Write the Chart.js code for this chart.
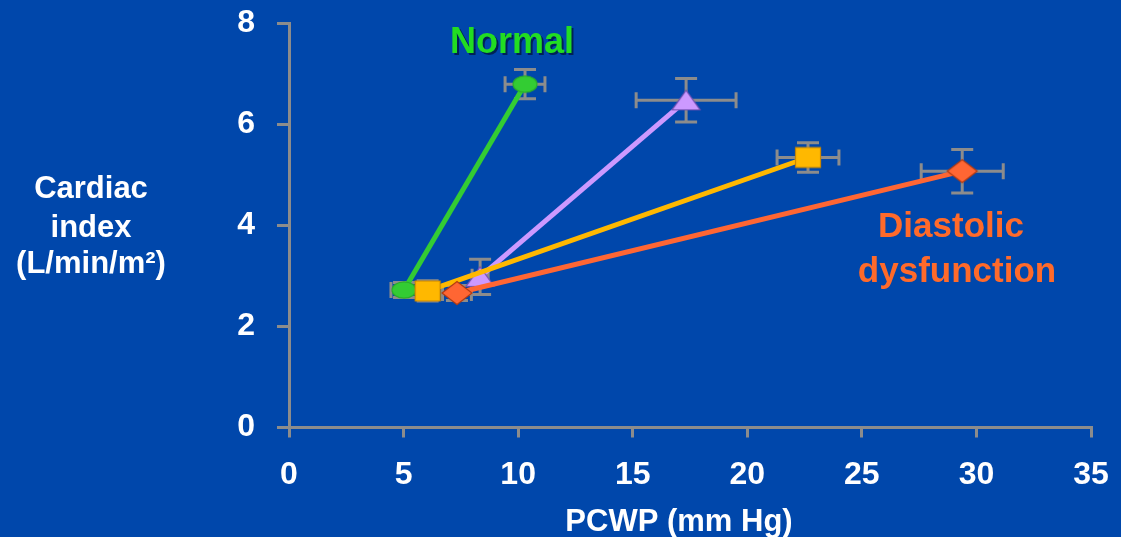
<!DOCTYPE html>
<html>
<head>
<meta charset="utf-8">
<script src="https://cdn.jsdelivr.net/npm/chart.js@4/dist/chart.umd.min.js"></script>
<style>
  html, body { margin: 0; padding: 0; background: #0047AB; }
  #wrap { width: 1121px; height: 537px; position: relative; }
</style>
</head>
<body>
<div id="wrap"><canvas id="c" width="1121" height="537"></canvas></div>
<script>
// Group names, one per line on the chart
const groups = ['Normal', 'Group B', 'Group C', 'Diastolic dysfunction'];

// Rest values (PCWP in mm Hg, cardiac index in L/min/m²)
const restPCWP = [5.02, 8.34, 6.05, 7.33];
const restCI   = [2.72, 2.98, 2.70, 2.66];
const restPCWPErr = [0.57, 0.35, 0.40, 0.63];
const restCIErr   = [0.15, 0.35, 0.20, 0.15];

// Exercise values
const exPCWP = [10.30, 17.33, 22.65, 29.38];
const exCI   = [6.79, 6.47, 5.34, 5.07];
const exPCWPErr = [0.87, 2.18, 1.35, 1.79];
const exCIErr   = [0.29, 0.43, 0.29, 0.43];

// Axis ticks
const xTicks = [0, 5, 10, 15, 20, 25, 30, 35];
const yTicks = [0, 2, 4, 6, 8];

const lineColors = ['#33CC33', '#CC99FF', '#FFB800', '#FF6633'];
const edgeColors = ['#2AAE2A', '#6F4FB0', '#C98600', '#B23A10'];
const BG = '#0047AB';
const GREY = '#8C8C8C';

// Marker images: ellipse, triangle, rectangle, diamond
function makeMarker(kind, fill, edge) {
  const cv = document.createElement('canvas');
  const w = 34, h = 28;
  cv.width = w; cv.height = h;
  const g = cv.getContext('2d');
  g.fillStyle = fill; g.strokeStyle = edge; g.lineWidth = 1.2;
  g.beginPath();
  if (kind === 'ellipse') {
    g.ellipse(w / 2, h / 2, 12, 8.2, 0, 0, Math.PI * 2);
  } else if (kind === 'triangle') {
    g.moveTo(w / 2, h / 2 - 10);
    g.lineTo(w / 2 + 14, h / 2 + 9.5);
    g.lineTo(w / 2 - 14, h / 2 + 9.5);
    g.closePath();
  } else if (kind === 'rect') {
    g.rect(w / 2 - 12.5, h / 2 - 10, 25, 20);
  } else {
    g.moveTo(w / 2, h / 2 - 11.5);
    g.lineTo(w / 2 + 15, h / 2);
    g.lineTo(w / 2, h / 2 + 11.5);
    g.lineTo(w / 2 - 15, h / 2);
    g.closePath();
  }
  g.fill();
  g.stroke();
  return cv;
}
const markerKinds = ['ellipse', 'triangle', 'rect', 'diamond'];

const datasets = groups.map((name, i) => ({
  label: name,
  data: [
    { x: restPCWP[i], y: restCI[i] },
    { x: exPCWP[i], y: exCI[i] }
  ],
  showLine: true,
  borderColor: lineColors[i],
  borderWidth: 5,
  pointStyle: makeMarker(markerKinds[i], lineColors[i], edgeColors[i]),
  pointRadius: 13,
  pointHoverRadius: 13,
  order: 4 - i
}));

// Error bars, drawn beneath the lines and markers
const errorBars = {
  id: 'errorBars',
  beforeDatasetsDraw(chart) {
    const { ctx, scales: { x, y } } = chart;
    ctx.save();
    ctx.strokeStyle = GREY;
    ctx.lineWidth = 3;
    const capH = 11;   // half-width of caps on vertical bars
    const capV = 8;    // half-height of caps on horizontal bars
    const bar = (px, py, ex, ey) => {
      const cx = x.getPixelForValue(px), cy = y.getPixelForValue(py);
      const x0 = x.getPixelForValue(px - ex), x1 = x.getPixelForValue(px + ex);
      const y0 = y.getPixelForValue(py - ey), y1 = y.getPixelForValue(py + ey);
      ctx.beginPath();
      ctx.moveTo(x0, cy); ctx.lineTo(x1, cy);
      ctx.moveTo(x0, cy - capV); ctx.lineTo(x0, cy + capV);
      ctx.moveTo(x1, cy - capV); ctx.lineTo(x1, cy + capV);
      ctx.moveTo(cx, y0); ctx.lineTo(cx, y1);
      ctx.moveTo(cx - capH, y0); ctx.lineTo(cx + capH, y0);
      ctx.moveTo(cx - capH, y1); ctx.lineTo(cx + capH, y1);
      ctx.stroke();
    };
    groups.forEach((g, i) => {
      bar(restPCWP[i], restCI[i], restPCWPErr[i], restCIErr[i]);
      bar(exPCWP[i], exCI[i], exPCWPErr[i], exCIErr[i]);
    });
    ctx.restore();
  }
};

// Background, axis titles and group labels
const annotations = {
  id: 'annotations',
  beforeDraw(chart) {
    const ctx = chart.ctx;
    ctx.save();
    ctx.fillStyle = BG;
    ctx.fillRect(0, 0, chart.width, chart.height);
    ctx.restore();
  },
  afterDraw(chart) {
    const ctx = chart.ctx;
    ctx.save();
    ctx.textAlign = 'center';
    ctx.textBaseline = 'alphabetic';

    ctx.font = 'bold 31px "Liberation Sans", Arial, sans-serif';
    ctx.fillStyle = '#FFFFFF';
    ctx.fillText('Cardiac', 91, 198);
    ctx.fillText('index', 91, 237);
    ctx.fillText('(L/min/m²)', 91, 273);

    ctx.font = 'bold 31px "Liberation Sans", Arial, sans-serif';
    ctx.fillText('PCWP (mm Hg)', 679, 531);

    ctx.font = 'bold 36px "Liberation Sans", Arial, sans-serif';
    ctx.fillStyle = '#002255';
    ctx.fillText('Normal', 514, 55);
    ctx.fillStyle = '#22DD22';
    ctx.fillText('Normal', 512, 53);

    ctx.font = 'bold 35px "Liberation Sans", Arial, sans-serif';
    ctx.fillStyle = '#FF6A2A';
    ctx.fillText('Diastolic', 951, 237);
    ctx.fillText('dysfunction', 957, 282);
    ctx.restore();
  }
};

const tickFont = { family: '"Liberation Sans", Arial, sans-serif', size: 32, weight: 'bold' };

new Chart(document.getElementById('c'), {
  type: 'scatter',
  data: { datasets },
  options: {
    responsive: false,
    animation: false,
    events: [],
    layout: { padding: { top: 23, right: 30, bottom: 0, left: 0 } },
    plugins: { legend: { display: false }, tooltip: { enabled: false } },
    scales: {
      x: {
        type: 'linear',
        min: xTicks[0],
        max: xTicks[xTicks.length - 1],
        afterBuildTicks(scale) { scale.ticks = xTicks.map(v => ({ value: v })); },
        afterFit(scale) {
          scale.height = 109.5;
          scale.paddingLeft = 0;
          scale.paddingRight = 0;
        },
        border: { color: GREY, width: 3 },
        grid: { drawOnChartArea: false, drawTicks: true, tickLength: 10, color: GREY, lineWidth: 3 },
        ticks: { color: '#FFFFFF', font: tickFont, padding: 18, maxRotation: 0 }
      },
      y: {
        type: 'linear',
        min: yTicks[0],
        max: yTicks[yTicks.length - 1],
        afterBuildTicks(scale) { scale.ticks = yTicks.map(v => ({ value: v })); },
        afterFit(scale) {
          scale.width = 289;
          scale.paddingTop = 0;
          scale.paddingBottom = 0;
        },
        border: { color: GREY, width: 3 },
        grid: { drawOnChartArea: false, drawTicks: true, tickLength: 12, color: GREY, lineWidth: 3 },
        ticks: { color: '#FFFFFF', font: tickFont, padding: 22 }
      }
    }
  },
  plugins: [errorBars, annotations]
});
</script>
</body>
</html>
